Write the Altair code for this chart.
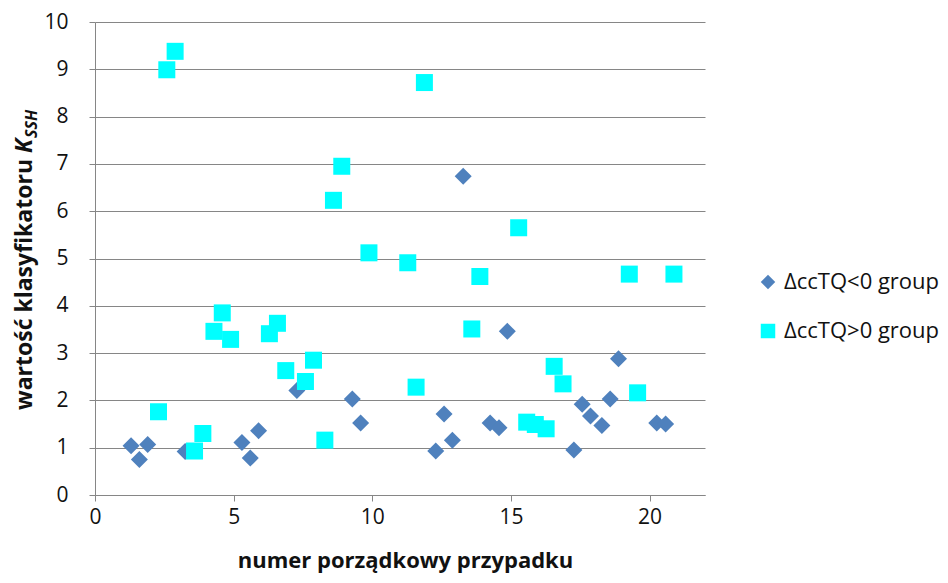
import altair as alt
import pandas as pd

# Series: ΔccTQ<0 group (diamonds)
neg_x = [1.30, 1.60, 1.90, 3.25, 5.30, 5.60, 5.90, 7.28, 9.28, 9.58, 13.28, 14.87,
         12.59, 12.29, 12.89, 14.25, 14.57, 17.27, 17.57, 17.87, 18.28, 18.58, 18.88,
         20.26, 20.58]
neg_y = [1.04, 0.75, 1.07, 0.92, 1.11, 0.78, 1.36, 2.21, 2.03, 1.52, 6.74, 3.46,
         1.71, 0.93, 1.16, 1.52, 1.42, 0.95, 1.92, 1.67, 1.47, 2.03, 2.88,
         1.52, 1.50]

# Series: ΔccTQ>0 group (squares)
pos_x = [2.29, 2.59, 2.89, 3.59, 3.89, 4.29, 4.59, 4.89, 6.29, 6.58, 6.88, 7.59,
         7.88, 8.29, 8.60, 8.90, 9.88, 11.28, 11.58, 11.88, 13.59, 13.88, 15.28,
         15.57, 15.88, 16.27, 16.56, 16.88, 19.27, 19.57, 20.88]
pos_y = [1.76, 8.99, 9.38, 0.93, 1.30, 3.46, 3.85, 3.29, 3.41, 3.63, 2.63, 2.40,
         2.85, 1.16, 6.23, 6.95, 5.12, 4.91, 2.28, 8.72, 3.51, 4.62, 5.65,
         1.54, 1.49, 1.40, 2.72, 2.35, 4.67, 2.16, 4.67]

groups = ["ΔccTQ<0 group", "ΔccTQ>0 group"]
x_ticks = [0, 5, 10, 15, 20]
y_ticks = [0, 1, 2, 3, 4, 5, 6, 7, 8, 9, 10]

df = pd.concat([
    pd.DataFrame({"x": neg_x, "y": neg_y, "g": groups[0]}),
    pd.DataFrame({"x": pos_x, "y": pos_y, "g": groups[1]}),
], ignore_index=True)

FONT = "Open Sans"
W, H = 610, 473

leg = dict(title=None, orient="none", legendX=662, legendY=249,
           labelFontSize=22, labelFont=FONT, labelColor="#111", labelLimit=400,
           symbolSize=210, rowPadding=27, labelOffset=5, symbolStrokeWidth=0)

points = alt.Chart(df).mark_point(filled=True, opacity=1, size=289).encode(
    x=alt.X("x:Q", scale=alt.Scale(domain=[0, 22], nice=False),
            axis=alt.Axis(values=x_ticks, title="numer porządkowy przypadku",
                          grid=False, tickSize=6, labelPadding=5,
                          titlePadding=23, titleX=310)),
    y=alt.Y("y:Q", scale=alt.Scale(domain=[0, 10], nice=False),
            axis=alt.Axis(values=y_ticks, title=None, grid=True, tickSize=6,
                          labelPadding=21)),
    color=alt.Color("g:N", scale=alt.Scale(domain=groups, range=["#4F81BD", "#00FFFF"]),
                    legend=alt.Legend(**leg)),
    shape=alt.Shape("g:N", scale=alt.Scale(domain=groups, range=["diamond", "square"]),
                    legend=alt.Legend(**leg)),
    order=alt.Order("g:N"),
)

yt1 = alt.Chart(pd.DataFrame({"t": ["wartość klasyfikatoru"]})).mark_text(
    angle=270, align="right", baseline="middle", font=FONT, fontSize=23,
    fontWeight="bold", color="#111").encode(
    text="t:N", x=alt.value(-70), y=alt.value(137))
yt2 = alt.Chart(pd.DataFrame({"t": ["K"]})).mark_text(
    angle=270, align="left", baseline="middle", font=FONT, fontSize=23,
    fontWeight="bold", fontStyle="italic", color="#111").encode(
    text="t:N", x=alt.value(-70), y=alt.value(131))
yt3 = alt.Chart(pd.DataFrame({"t": ["SSH"]})).mark_text(
    angle=270, align="left", baseline="middle", font=FONT, fontSize=16,
    fontWeight="bold", fontStyle="italic", color="#111").encode(
    text="t:N", x=alt.value(-63), y=alt.value(116))

chart = alt.layer(points, yt1, yt2, yt3).properties(
    width=W, height=H,
    autosize=alt.AutoSizeParams(type="none"),
    padding={"left": 87, "top": 14, "right": 235, "bottom": 80},
).configure_view(stroke=None).configure_axis(
    labelFont=FONT, labelFontSize=21, labelColor="#111",
    titleFont=FONT, titleFontSize=22, titleFontWeight="bold", titleColor="#111",
    domainColor="#868686", tickColor="#868686", gridColor="#868686",
    domainWidth=1, tickWidth=1, gridWidth=1,
).configure_axisX(labelFlush=False)

chart.save("out.html", embed_options={"renderer": "svg", "actions": False})
